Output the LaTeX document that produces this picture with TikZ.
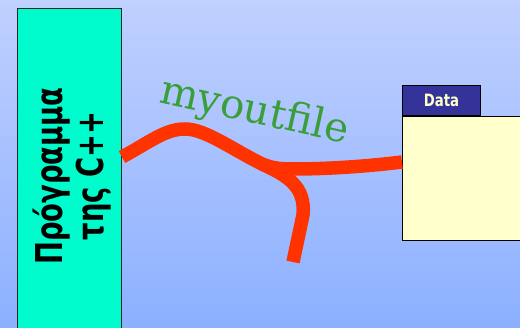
\documentclass[tikz,border=0pt]{standalone}
\usepackage{fontspec}
\newfontfamily\labelsans{DejaVu Sans}[BoldFont={DejaVu Sans Bold}]
\newfontfamily\labelserif{DejaVu Serif}
\definecolor{skytop}{RGB}{192,208,255}
\definecolor{skybottom}{RGB}{140,176,255}
\definecolor{progfill}{RGB}{0,252,204}
\definecolor{streamred}{RGB}{255,51,0}
\definecolor{labelgreen}{RGB}{58,158,58}
\definecolor{tabnavy}{RGB}{51,51,153}
\definecolor{filecream}{RGB}{255,255,204}
\tikzset{
  progbox/.style={draw=black!85, line width=1pt, fill=progfill, inner sep=0pt,
    minimum width=104pt, minimum height=327pt},
  filetab/.style={draw=black, line width=1pt, fill=tabnavy, inner sep=0pt,
    minimum width=78pt, minimum height=30pt},
  filebody/.style={draw=black, line width=1.3pt, fill=filecream, inner sep=0pt,
    minimum width=122pt, minimum height=124pt},
  stream/.style={draw=streamred, line width=13.5pt},
}
\begin{document}
\begin{tikzpicture}[x=1pt,y=-1pt]
  % sky gradient backdrop
  \shade[top color=skytop, bottom color=skybottom] (0,0) rectangle (520,328);
  \useasboundingbox (0,0) rectangle (520,328);
  \begin{scope}
    \clip (0,0) rectangle (520,328);
    % program block
    \node[progbox, anchor=north west] (prog) at (17,8) {};
    \node[rotate=90, font=\labelsans\bfseries\fontsize{37}{41}\selectfont]
      (progtext) at (74,176)
      {\scalebox{0.74}[1]{\begin{tabular}{@{}c@{}}Πρόγραμμα\\της C++\end{tabular}}};
    % data file
    \node[filebody, anchor=north west] (file) at (402,116) {};
    \node[filetab, anchor=south west] (tab) at (402,116) {};
    \node[text=filecream, font=\labelsans\bfseries\fontsize{17}{19}\selectfont]
      (tablabel) at (tab.center) {\scalebox{0.78}[1]{Data}};
    % stream ends
    \coordinate (src) at (prog.east |- 0,157);
    \coordinate (dst) at (file.west |- 0,162);
    \coordinate (fork) at (262,164);
    \coordinate (loose) at (293,262);
    % output stream
    \draw[stream] (src) .. controls (150,142) and (165,129) .. (185,129)
      .. controls (205,129) and (230,148) .. (fork)
      .. controls (272,168) and (280,169) .. (292,169)
      .. controls (330,169) and (370,166) .. (dst);
    \draw[stream] (fork) .. controls (285,175) and (306,185) .. (303,215)
      -- (loose);
    % stream name
    \node[anchor=base, rotate=-12.5, text=labelgreen,
      font=\labelserif\fontsize{40.5}{42}\selectfont] (name) at (252,123) {myoutfile};
  \end{scope}
\end{tikzpicture}
\end{document}
